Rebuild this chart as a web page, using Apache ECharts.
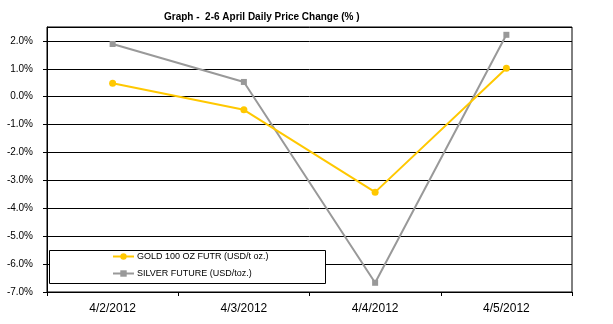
<!DOCTYPE html>
<html>
<head>
<meta charset="utf-8">
<script src="https://cdn.jsdelivr.net/npm/echarts@6/dist/echarts.min.js"></script>
<style>
  html, body { margin: 0; padding: 0; background: #fff; }
  #chart { width: 613px; height: 324px; }
</style>
</head>
<body>
<div id="chart"></div>
<script>
// Trading days
var categories = ['4/2/2012', '4/3/2012', '4/4/2012', '4/5/2012'];
// Daily price change, percent
var goldChange = [0.48, -0.47, -3.42, 1.02];
var silverChange = [1.89, 0.53, -6.67, 2.22];
// Value axis settings
var yMin = -7, yMax = 2.5, yStep = 1;

var FONT = '"Liberation Sans", Arial, sans-serif';
var chart = echarts.init(document.getElementById('chart'));

chart.setOption({
  backgroundColor: '#fff',
  animation: false,
  title: {
    text: 'Graph -  2-6 April Daily Price Change (% )',
    left: 159,
    top: 7,
    textStyle: { fontFamily: FONT, fontSize: 10, fontWeight: 'bold', color: '#000' }
  },
  grid: {
    left: 47, right: 41, top: 27, bottom: 32,
    show: true, borderColor: '#000', borderWidth: 1, backgroundColor: 'transparent'
  },
  xAxis: {
    type: 'category',
    data: categories,
    boundaryGap: true,
    axisLine: { onZero: false, lineStyle: { color: '#000', width: 1 } },
    axisTick: { show: true, length: 4, inside: false, lineStyle: { color: '#000' } },
    axisLabel: { fontFamily: FONT, fontSize: 12, color: '#000', margin: 11 },
    splitLine: { show: false }
  },
  yAxis: {
    type: 'value',
    min: yMin, max: yMax, interval: yStep,
    axisLine: { show: true, lineStyle: { color: '#000', width: 1 } },
    axisTick: { show: true, length: 4, inside: false, lineStyle: { color: '#000' } },
    axisLabel: {
      fontFamily: FONT, fontSize: 10, color: '#000', margin: 14,
      showMaxLabel: false,
      formatter: function (v) { return (Math.abs(v - yMax) < 1e-9) ? '' : v.toFixed(1) + '%'; }
    },
    splitLine: { show: true, lineStyle: { color: '#000', width: 1 } }
  },
  legend: {
    orient: 'vertical',
    left: 112,
    top: 252,
    itemWidth: 21,
    itemHeight: 8,
    itemGap: 8,
    padding: 0,
    textStyle: { fontFamily: FONT, fontSize: 9, color: '#000', padding: [0, 0, 0, -2] },
    data: ['GOLD 100 OZ FUTR (USD/t oz.)', 'SILVER FUTURE (USD/toz.)']
  },
  graphic: [{
    type: 'rect',
    z: 3,
    shape: { x: 49.5, y: 250.5, width: 276, height: 33 },
    style: { fill: '#fff', stroke: '#000', lineWidth: 1 }
  }],
  series: [
    {
      name: 'GOLD 100 OZ FUTR (USD/t oz.)',
      type: 'line',
      data: goldChange,
      symbol: 'circle',
      symbolSize: 7,
      lineStyle: { color: '#FFC800', width: 2 },
      itemStyle: { color: '#FFC800' },
      z: 5
    },
    {
      name: 'SILVER FUTURE (USD/toz.)',
      type: 'line',
      data: silverChange,
      symbol: 'rect',
      symbolSize: 6,
      lineStyle: { color: '#999999', width: 2 },
      itemStyle: { color: '#999999' },
      z: 4
    }
  ]
});
</script>
</body>
</html>
